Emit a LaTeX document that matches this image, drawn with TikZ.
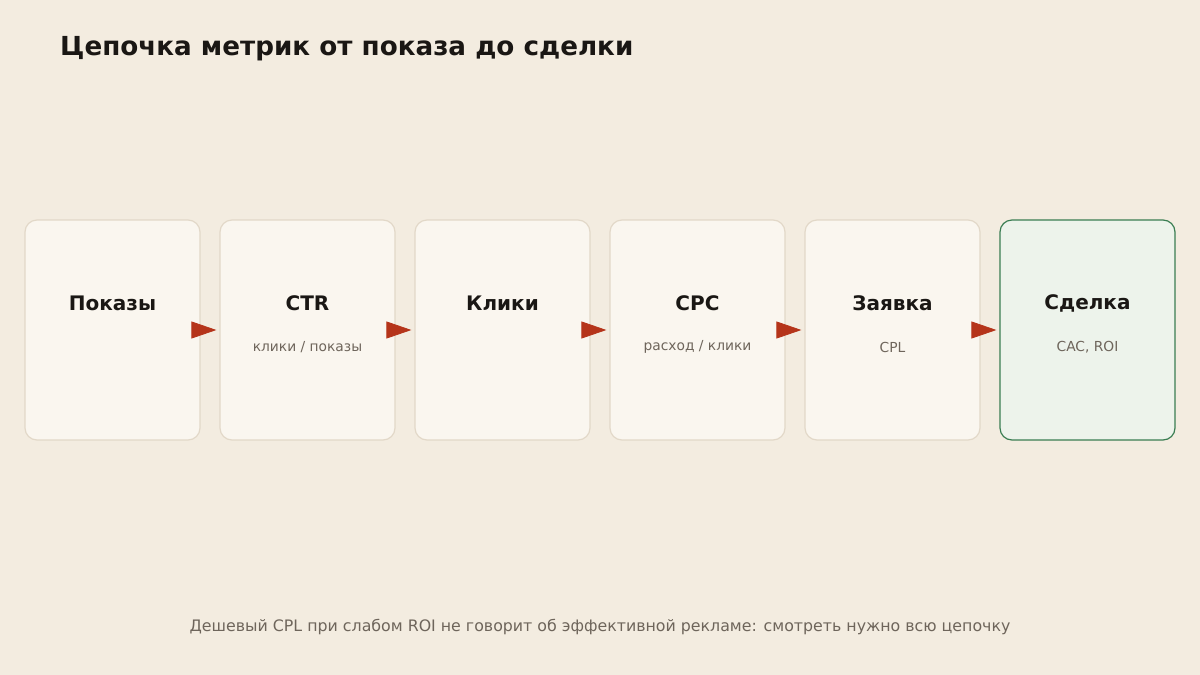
\documentclass[tikz,border=0pt]{standalone}
\usepackage{fontspec}
\setmainfont{DejaVu Sans}
\usetikzlibrary{arrows.meta,positioning}

\definecolor{paper}{HTML}{F3ECE0}
\definecolor{boxfill}{HTML}{FAF6EF}
\definecolor{boxline}{HTML}{E2D8C8}
\definecolor{dealfill}{HTML}{EDF3EB}
\definecolor{dealline}{HTML}{3A7D52}
\definecolor{flowred}{HTML}{B5341A}
\definecolor{ink}{HTML}{1A1714}
\definecolor{muted}{HTML}{6E655B}

\tikzset{
  stage/.style={draw=boxline, fill=boxfill, line width=1.2pt, rounded corners=12pt,
    minimum width=175pt, minimum height=220pt, inner sep=0pt},
  dealstage/.style={stage, draw=dealline, fill=dealfill},
  stagename/.style={font=\fontsize{20}{24}\selectfont\bfseries, text=ink},
  stagenote/.style={font=\fontsize{13.8}{16}\selectfont, text=muted},
  flow/.style={-{Triangle[length=25pt,width=17pt]}, flowred, line width=0.8pt}
}

\begin{document}
\begin{tikzpicture}[x=1pt,y=-1pt]

	\fill [paper] (0,0) rectangle (1200,675);
	\useasboundingbox (0,0) rectangle (1200,675);

	\node [anchor=base west, inner sep=0pt, font=\fontsize{26.2}{30}\selectfont\bfseries, text=ink] (title) at (60,55) {Цепочка метрик от показа до сделки};

	% stages
	\node [stage] (pokazy) at (112.5,330) {};
	\node [stage] (ctr) at (307.5,330) {};
	\node [stage] (kliki) at (502.5,330) {};
	\node [stage] (cpc) at (697.5,330) {};
	\node [stage] (zayavka) at (892.5,330) {};
	\node [dealstage] (sdelka) at (1087.5,330) {};

	\node [stagename] (pokazyname) at ([yshift=27pt]pokazy.center) {Показы};
	\node [stagename] (ctrname) at ([yshift=27pt]ctr.center) {CTR};
	\node [stagenote] (ctrnote) at ([yshift=-17pt]ctr.center) {клики / показы};
	\node [stagename] (klikiname) at ([yshift=27pt]kliki.center) {Клики};
	\node [stagename] (cpcname) at ([yshift=27pt]cpc.center) {CPC};
	\node [stagenote] (cpcnote) at ([yshift=-17pt]cpc.center) {расход / клики};
	\node [stagename] (zayavkaname) at ([yshift=27pt]zayavka.center) {Заявка};
	\node [stagenote] (zayavkanote) at ([yshift=-17pt]zayavka.center) {CPL};
	\node [stagename] (sdelkaname) at ([yshift=27pt]sdelka.center) {Сделка};
	\node [stagenote] (sdelkanote) at ([yshift=-17pt]sdelka.center) {CAC, ROI};

	% arrows
	\draw [flow] ([xshift=-8pt]pokazy.east) -- ([xshift=-3pt]ctr.west);
	\draw [flow] ([xshift=-8pt]ctr.east) -- ([xshift=-3pt]kliki.west);
	\draw [flow] ([xshift=-8pt]kliki.east) -- ([xshift=-3pt]cpc.west);
	\draw [flow] ([xshift=-8pt]cpc.east) -- ([xshift=-3pt]zayavka.west);
	\draw [flow] ([xshift=-8pt]zayavka.east) -- ([xshift=-3pt]sdelka.west);

	\node [font=\fontsize{15.8}{18}\selectfont, text=muted] (footer) at (600,627) {Дешевый CPL при слабом ROI не говорит об эффективной рекламе: смотреть нужно всю цепочку};
\end{tikzpicture}
\end{document}
